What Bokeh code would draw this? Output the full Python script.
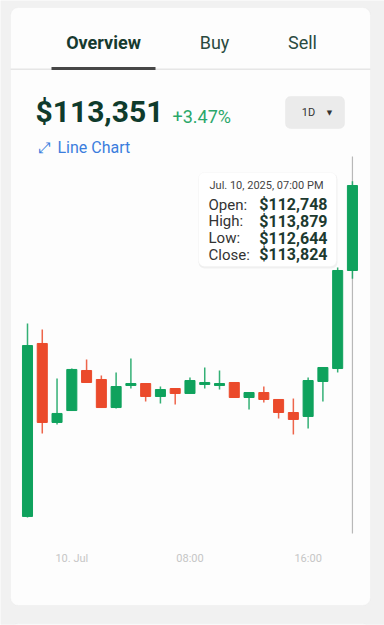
from datetime import datetime, timedelta
from bokeh.plotting import figure
from bokeh.models import Range1d, FixedTicker, BoxAnnotation, Label, ColumnDataSource
from bokeh.embed import file_html
from bokeh.resources import INLINE

# ---------------- data ----------------
times = ["2025-07-09 21:00", "2025-07-09 22:00", "2025-07-09 23:00",
         "2025-07-10 00:00", "2025-07-10 01:00", "2025-07-10 02:00",
         "2025-07-10 03:00", "2025-07-10 04:00", "2025-07-10 05:00",
         "2025-07-10 06:00", "2025-07-10 07:00", "2025-07-10 08:00",
         "2025-07-10 09:00", "2025-07-10 10:00", "2025-07-10 11:00",
         "2025-07-10 12:00", "2025-07-10 13:00", "2025-07-10 14:00",
         "2025-07-10 15:00", "2025-07-10 16:00", "2025-07-10 17:00",
         "2025-07-10 18:00", "2025-07-10 19:00"]
opens = [109634, 111824, 110824, 110975, 111482, 111368, 111013, 111292,
         111317, 111153, 111254, 111191, 111305, 111292, 111330, 111140,
         111203, 111115, 110950, 110900, 111343, 111507, 112748]
highs = [112077, 112001, 111381, 111507, 111621, 111419, 111457, 111634,
         111317, 111279, 111254, 111393, 111520, 111482, 111330, 111203,
         111279, 111115, 111127, 111393, 111520, 112786, 113879]
lows = [109621, 110684, 110798, 110975, 111330, 111013, 111001, 111254,
        111090, 111064, 111051, 111191, 111254, 111241, 111140, 110988,
        111077, 110874, 110672, 110748, 111090, 111457, 112644]
closes = [111798, 110824, 110938, 111495, 111330, 111013, 111279, 111317,
          111153, 111241, 111191, 111355, 111330, 111317, 111140, 111203,
          111115, 110950, 110862, 111355, 111520, 112748, 113824]

tick_times = ["2025-07-10 00:00", "2025-07-10 08:00", "2025-07-10 16:00"]
tick_labels = ["10. Jul", "08:00", "16:00"]

tabs = ["Overview", "Buy", "Sell"]
price_text = "$113,351"
change_text = "+3.47%"
period_text = "1D"
link_text = "Line Chart"
tooltip_time = "Jul. 10, 2025, 07:00 PM"
tooltip_fields = ["Open:", "High:", "Low:", "Close:"]

# ---------------- styling / layout ----------------
PAGE = "#f1f1f1"
CARD = "#fdfdfd"
GREEN = "#0fa25d"
RED = "#eb4a2b"
FONT = "Roboto"

W, H = 384, 625
FRAME_BOTTOM = 624          # frame covers canvas rows 0..624
PX_PER_HOUR = 14.77         # horizontal scale
FIRST_X = 27                # canvas x of first candle
PX_PER_USD = 1 / 12.66      # vertical scale
REF_PRICE, REF_Y = 113824, 185   # anchor: last close at canvas y 185
CHART_TOP_Y, CHART_BOTTOM_Y = 156, 533

dt = [datetime.strptime(t, "%Y-%m-%d %H:%M") for t in times]
ticks_dt = [datetime.strptime(t, "%Y-%m-%d %H:%M") for t in tick_times]
EPOCH = datetime(1970, 1, 1)
tick_ms = [(t - EPOCH).total_seconds() * 1000 for t in ticks_dt]


def price_at(y):
    return REF_PRICE - (y - REF_Y) / PX_PER_USD


x_start = dt[0] - timedelta(hours=FIRST_X / PX_PER_HOUR)
x_end = x_start + timedelta(hours=W / PX_PER_HOUR)

colors = [GREEN if c >= o else RED for o, c in zip(opens, closes)]
src = ColumnDataSource(dict(
    t=dt, h=highs, l=lows,
    top=[max(o, c) for o, c in zip(opens, closes)],
    bottom=[min(o, c) for o, c in zip(opens, closes)],
    color=colors,
))

p = figure(width=W, height=H, x_axis_type="datetime", y_axis_location=None,
           output_backend="svg", toolbar_location=None,
           x_range=Range1d(x_start, x_end),
           y_range=Range1d(price_at(FRAME_BOTTOM), price_at(0)),
           min_border_left=0, min_border_right=0, min_border_top=0,
           min_border_bottom=H - FRAME_BOTTOM)
p.title.visible = False
p.outline_line_color = None
p.grid.visible = False
p.background_fill_color = PAGE
p.border_fill_color = PAGE

ax = p.xaxis[0]
ax.ticker = FixedTicker(ticks=tick_ms)
ax.major_label_overrides = {ms: lab for ms, lab in zip(tick_ms, tick_labels)}
ax.axis_line_color = None
ax.major_tick_line_color = None
ax.minor_tick_line_color = None
ax.major_tick_out = 0
ax.major_tick_in = 0
ax.major_label_standoff = 551 - FRAME_BOTTOM
ax.major_label_text_color = "#c6c6c6"
ax.major_label_text_font = FONT
ax.major_label_text_font_size = "11px"


def box(l, r, t, b, fill, line=None, radius=0, level="annotation", alpha=1.0):
    bx = BoxAnnotation(left=l, right=r, top=t, bottom=b,
                       left_units="canvas", right_units="canvas",
                       top_units="canvas", bottom_units="canvas",
                       fill_color=fill, fill_alpha=alpha, line_color=line,
                       border_radius=radius, level=level)
    p.add_layout(bx)


def lab(text, x, y, size, color, align="left", style="normal", font=FONT):
    p.add_layout(Label(x=x, y=y, x_units="canvas", y_units="canvas", text=text,
                       text_font=font, text_font_size=f"{size}px",
                       text_color=color, text_align=align,
                       text_baseline="middle", text_font_style=style))


# cards
box(10, 370, 7, 605, CARD, line="#e9e9e9", radius=8, level="underlay")
box(10, 370, 623, 660, CARD, line="#e9e9e9", radius=8, level="underlay")

# crosshair (drawn before the candles so the last body covers it)
p.segment(x0=[dt[-1]], y0=[price_at(CHART_BOTTOM_Y)], x1=[dt[-1]],
          y1=[price_at(CHART_TOP_Y)], line_color="#b8b8b8", line_width=1.2)

# candles
p.segment("t", "h", "t", "l", source=src, line_color="color", line_width=1.5,
          line_alpha=0.85)
p.vbar("t", width=0.68 * 3600000, top="top", bottom="bottom", source=src,
       fill_color="color", line_color="color")

# header tabs
box(10, 370, 68, 69.5, "#e6e6e6")
box(51, 155, 66.5, 69.5, "#474747")
lab(tabs[0], 103, 42, 18, "#163a2f", "center", "bold")
lab(tabs[1], 214, 42, 18, "#2a4a40", "center")
lab(tabs[2], 302, 42, 18, "#2a4a40", "center")

# price header
lab(price_text, 35, 111, 30, "#0f3b2c", "left", "bold")
lab(change_text, 172, 116, 18, "#2aa76a", "left")
box(285, 344, 96, 128, "#ebebeb", line="#e2e2e2", radius=5)
lab(period_text, 308, 112, 11, "#333333", "center")
lab("\u25BC", 329, 112, 7, "#333333", "center", font="DejaVu Sans")
lab("\u2922", 43, 147, 15, "#3b7ddd", "center", font="DejaVu Sans")
lab(link_text, 57, 147, 16, "#3b7ddd", "left")

# tooltip
box(198, 337, 173, 268, "#000000", radius=6, alpha=0.05)
box(198, 336, 172, 266, "#ffffff", line="#eeeeee", radius=6)
lab(tooltip_time, 209, 185, 11, "#444444", "left")
vals = [opens[-1], highs[-1], lows[-1], closes[-1]]
for i, (name, v) in enumerate(zip(tooltip_fields, vals)):
    y = 204 + i * 16.8
    lab(name, 208, y, 15, "#333333", "left")
    lab(f"${v:,}", 327, y, 16, "#1d3a30", "right", "bold")

open("out.html", "w").write(file_html(p, INLINE))
